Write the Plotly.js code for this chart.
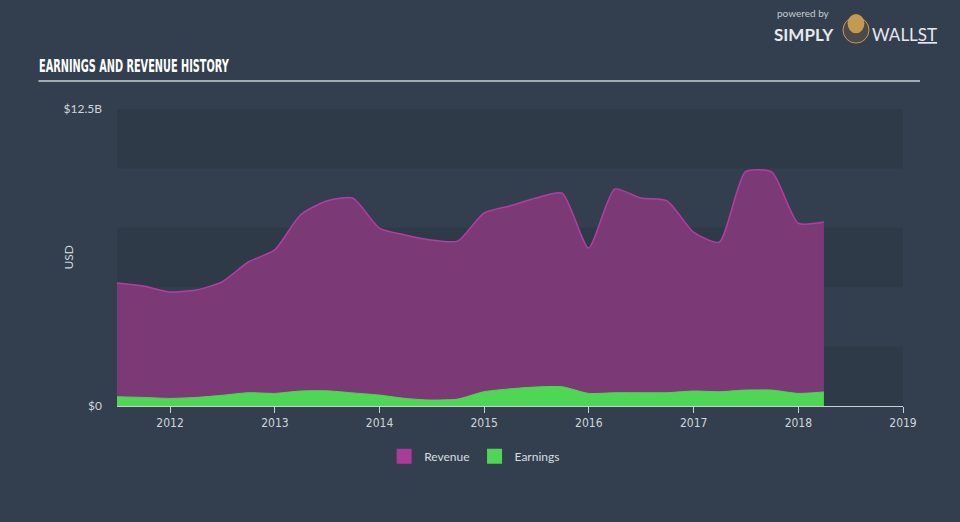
<!DOCTYPE html>
<html>
<head>
<meta charset="utf-8">
<script src="https://cdn.plot.ly/plotly-3.0.1.min.js"></script>
<style>
html,body{margin:0;padding:0;background:#333f4f;}
#chart{width:960px;height:522px;}
</style>
</head>
<body>
<div id="chart"></div>
<script>
// Quarter-end dates
const dates = [
 '2011-06-30','2011-09-30','2011-12-31','2012-03-31','2012-06-30','2012-09-30','2012-12-31',
 '2013-03-31','2013-06-30','2013-09-30','2013-12-31','2014-03-31','2014-06-30','2014-09-30',
 '2014-12-31','2015-03-31','2015-06-30','2015-09-30','2015-12-31','2016-03-31','2016-06-30',
 '2016-09-30','2016-12-31','2017-03-31','2017-06-30','2017-09-30','2017-12-31','2018-03-31'
];
// Revenue (USD billions)
const revenue = [
 5.18, 5.05, 4.80, 4.88, 5.22, 6.06, 6.57,
 8.04, 8.63, 8.75, 7.49, 7.20, 6.99, 6.94,
 8.12, 8.42, 8.75, 8.96, 6.65, 9.13, 8.75,
 8.63, 7.32, 6.90, 9.85, 9.85, 7.70, 7.74
];
// Earnings (USD billions)
const earnings = [
 0.39, 0.36, 0.32, 0.36, 0.45, 0.56, 0.53,
 0.63, 0.64, 0.55, 0.46, 0.32, 0.25, 0.29,
 0.60, 0.72, 0.80, 0.81, 0.53, 0.56, 0.56,
 0.56, 0.63, 0.60, 0.67, 0.67, 0.53, 0.59
];
const yTickVals = [0, 12.5e9];
const yTickText = ['$0', '$12.5B'];
const xTickVals = ['2012-01-01','2013-01-01','2014-01-01','2015-01-01','2016-01-01','2017-01-01','2018-01-01','2019-01-01'];
const seriesNames = ['Revenue', 'Earnings'];
const seriesColors = ['#a83c98', '#50d655'];

const B = 1e9;
const traces = [
 {
  x: dates, y: revenue.map(v => v * B), name: seriesNames[0], showlegend: false,
  type: 'scatter', mode: 'lines', fill: 'tozeroy',
  line: {color: '#b53da2', width: 1.5, shape: 'spline', smoothing: 0.6},
  fillcolor: '#7b3a76', hoverinfo: 'skip'
 },
 {
  x: dates, y: earnings.map(v => v * B), name: seriesNames[1], showlegend: false,
  type: 'scatter', mode: 'lines', fill: 'tozeroy',
  line: {color: '#50d655', width: 1, shape: 'spline', smoothing: 0.6},
  fillcolor: '#50d655', hoverinfo: 'skip'
 },
 // legend-only entries (square swatches)
 {x: [null], y: [null], name: seriesNames[0], type: 'scatter', mode: 'markers',
  marker: {symbol: 'square', size: 15, color: seriesColors[0]}},
 {x: [null], y: [null], name: seriesNames[1], type: 'scatter', mode: 'markers',
  marker: {symbol: 'square', size: 15, color: seriesColors[1]}}
];

const shapes = [];
for (let i = 0; i < 5; i += 2) {
  shapes.push({type: 'rect', xref: 'paper', yref: 'y', x0: 0, x1: 1,
    y0: i * 2.5e9, y1: (i + 1) * 2.5e9, fillcolor: 'rgba(30,40,52,0.22)',
    line: {width: 0}, layer: 'below'});
}
shapes.push({type: 'line', xref: 'paper', yref: 'paper', x0: -0.1,  x1: 1.0216,
  y0: 1.094, y1: 1.094, line: {color: '#a3abb5', width: 2}});
shapes.push({type: 'circle', xref: 'paper', yref: 'paper', x0: 0.9237, x1: 0.9567,
  y0: 1.222, y1: 1.31, fillcolor: '#4a4a4a', line: {color: '#c49a52', width: 1}});
shapes.push({type: 'circle', xref: 'paper', yref: 'paper', x0: 0.9295, x1: 0.9509,
  y0: 1.255, y1: 1.32, fillcolor: '#c49a52', line: {width: 0}});

const layout = {
  width: 960, height: 522,
  margin: {l: 117, r: 57, t: 109, b: 116},
  paper_bgcolor: '#333f4f',
  plot_bgcolor: 'rgba(0,0,0,0)',
  font: {family: 'Lato, "Open Sans", sans-serif', color: '#d0d5db', size: 11},
  showlegend: true,
  legend: {orientation: 'h', x: 0.455, xanchor: 'center', y: -0.12, yanchor: 'top',
    font: {size: 12, color: '#d8dce1'}, itemwidth: 30},
  xaxis: {
    type: 'date', range: ['2011-06-30', '2019-01-01'],
    tickvals: xTickVals,
    tickformat: '%Y', ticks: 'outside', ticklen: 6, tickcolor: '#c8ced6', tickwidth: 1,
    showline: true, linecolor: '#c8ced6', linewidth: 1, showgrid: false, zeroline: false,
    tickfont: {family: '"DejaVu Sans Condensed", "Liberation Sans Narrow", sans-serif', size: 12, color: '#d0d5db'}
  },
  yaxis: {
    range: [0, 12.5e9], tickvals: yTickVals, ticktext: yTickText,
    showgrid: false, zeroline: false, showline: false, ticks: '',
    ticklabelstandoff: 14,
    tickfont: {size: 12, color: '#cfd4da'}
  },
  shapes: shapes,
  annotations: [
    {text: 'EARNINGS AND REVENUE HISTORY', xref: 'paper', yref: 'paper', x: -0.1018, y: 1.105,
     xanchor: 'left', yanchor: 'bottom', showarrow: false,
     font: {family: '"DejaVu Sans Condensed", "DejaVu Sans", sans-serif', size: 18, color: '#ffffff', weight: 700}},
    {text: 'USD', xref: 'paper', yref: 'paper', x: -0.0623, y: 0.5, textangle: -90,
     xanchor: 'center', yanchor: 'middle', showarrow: false, font: {size: 12, color: '#cfd4da'}},
    {text: 'powered by', xref: 'paper', yref: 'paper', x: 0.8375, y: 1.297, xanchor: 'left', yanchor: 'bottom',
     showarrow: false, font: {size: 10, color: '#c6ccd3'}},
    {text: 'SIMPLY', xref: 'paper', yref: 'paper', x: 0.8335, y: 1.294, xanchor: 'left', yanchor: 'top',
     showarrow: false, font: {size: 17, color: '#e6e9ec', weight: 700}},
    {text: 'WALL<u>ST</u>', xref: 'paper', yref: 'paper', x: 0.9575, y: 1.294, xanchor: 'left', yanchor: 'top',
     showarrow: false, font: {size: 17, color: '#e6e9ec'}}
  ]
};

Plotly.newPlot('chart', traces, layout, {displayModeBar: false, staticPlot: true}).then(gd => {
  const t = gd.querySelector('.annotation-text');
  if (t) {
    const bb = t.getBBox();
    const target = 190;
    if (bb.width > target) {
      t.style.transformBox = 'fill-box';
      t.style.transformOrigin = 'left center';
      t.style.transform = 'scaleX(' + (target / bb.width) + ')';
    }
  }
});
</script>
</body>
</html>
